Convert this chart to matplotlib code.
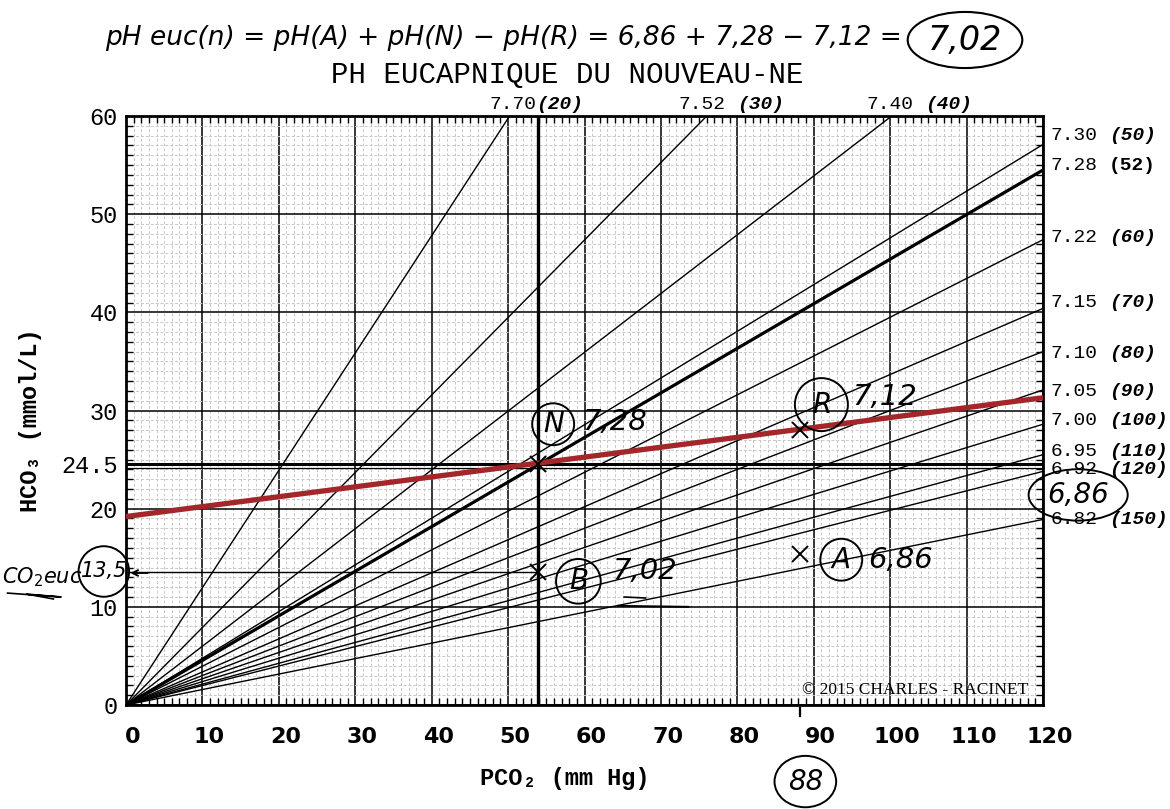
import matplotlib
matplotlib.use('Agg')
import matplotlib.pyplot as plt
from matplotlib.ticker import MultipleLocator
from matplotlib.transforms import ScaledTranslation

# ---------------- data ----------------
iso_ph = ['7.70', '7.52', '7.40', '7.30', '7.28', '7.22', '7.15', '7.10',
          '7.05', '7.00', '6.95', '6.92', '6.82']
iso_h = ['20', '30', '40', '50', '52', '60', '70', '80', '90', '100', '110',
         '120', '150']
iso_end_pco2 = [50.2, 76.0, 100.2, 120, 120, 120, 120, 120, 120, 120, 120, 120, 120]
iso_end_hco3 = [60, 60, 60, 57.1, 54.5, 47.4, 40.4, 36.0, 32.1, 28.6, 25.5, 23.8, 18.9]
iso_label_y = [60, 60, 60, 58.0, 55.0, 47.6, 41.0, 35.8, 31.9, 29.0, 25.8, 24.0, 18.9]
iso_label_x = [47.6, 72.3, 96.9, 121, 121, 121, 121, 121, 121, 121, 121, 121, 121]

red_pco2 = [0, 120]
red_hco3 = [19.2, 31.3]

normal_hco3 = 24.5
normal_pco2 = 53.9

pt_names = ['N', 'B', 'R', 'A']
pt_pco2 = [53.9, 53.9, 88.2, 88.2]
pt_hco3 = [24.5, 13.5, 28.0, 15.4]
pt_ph = ['7,28', '7,02', '7,12', '6,86']

x_ticks = [0, 10, 20, 30, 40, 50, 60, 70, 80, 90, 100, 110, 120]
y_ticks = [0, 10, 20, 24.5, 30, 40, 50, 60]
y_ticklabels = ['0', '10', '20', '24.5', '30', '40', '50', '60']

W, H = 1170, 809
MONO = ['Liberation Mono', 'DejaVu Sans Mono']
HAND = ['DejaVu Sans']

fig = plt.figure(figsize=(W / 100, H / 100), dpi=100)
fig.patch.set_facecolor('white')
ax = fig.add_axes([126 / W, 1 - 705 / H, (1043 - 126) / W, (705 - 116) / H])
ax.set_xlim(0, 120)
ax.set_ylim(0, 60)

# grid
ax.xaxis.set_minor_locator(MultipleLocator(1))
ax.yaxis.set_minor_locator(MultipleLocator(1))
ax.set_axisbelow(True)
ax.grid(which='minor', color='#c8c8c8', lw=0.7, ls=(0, (3, 2)))
ax.grid(which='major', color='black', lw=1.1)
ax.set_xticks(x_ticks)
ax.set_yticks(y_ticks)
ax.set_yticklabels(y_ticklabels)
ax.tick_params(which='both', direction='in', top=True, right=True)
ax.tick_params(which='minor', length=5, width=1.0, color='black')
ax.tick_params(which='major', length=0)
ax.tick_params(axis='x', which='major', pad=16)
ax.tick_params(axis='y', which='major', pad=6)
shift = ScaledTranslation(7 / 100, 0, fig.dpi_scale_trans)
for lbl in ax.get_xticklabels():
    lbl.set_family('DejaVu Sans')
    lbl.set_fontweight('bold')
    lbl.set_fontsize(16)
    lbl.set_transform(lbl.get_transform() + shift)
for lbl in ax.get_yticklabels():
    lbl.set_family(MONO)
    lbl.set_fontsize(17)
for s in ax.spines.values():
    s.set_linewidth(2)

# isopleth lines
for i in range(len(iso_ph)):
    lw = 2.3 if iso_h[i] == '52' else 1.0
    ax.plot([0, iso_end_pco2[i]], [0, iso_end_hco3[i]], color='black', lw=lw,
            solid_capstyle='butt', zorder=3)
    ph_txt = iso_ph[i]
    h_txt = '(' + iso_h[i] + ')'
    if iso_label_y[i] >= 60 and iso_label_x[i] < 120:
        sep = '' if iso_h[i] == '20' else ' '
        ax.annotate(ph_txt, (iso_label_x[i], 60), xytext=(0, 2),
                    textcoords='offset points', ha='left', va='bottom',
                    family=MONO, fontsize=14, annotation_clip=False)
        off = (4 + len(sep)) * 8.4
        ax.annotate(h_txt, (iso_label_x[i], 60), xytext=(off, 2),
                    textcoords='offset points', ha='left', va='bottom',
                    family=MONO, fontsize=14, fontweight='bold', style='italic',
                    annotation_clip=False)
    else:
        ax.annotate(ph_txt, (iso_label_x[i], iso_label_y[i]), xytext=(0, 0),
                    textcoords='offset points', ha='left', va='center',
                    family=MONO, fontsize=14, annotation_clip=False)
        st = 'normal' if iso_h[i] == '52' else 'italic'
        ax.annotate(h_txt, (iso_label_x[i], iso_label_y[i]), xytext=(5 * 8.4, 0),
                    textcoords='offset points', ha='left', va='center',
                    family=MONO, fontsize=14, fontweight='bold', style=st,
                    annotation_clip=False)

# normal reference lines
ax.axhline(normal_hco3, color='black', lw=2.2, zorder=3)
ax.axhline(normal_hco3 - 0.35, color='black', lw=0.9, zorder=3)
ax.axvline(normal_pco2, color='black', lw=2.4, zorder=3)

# red buffer line
ax.plot(red_pco2, red_hco3, color='#a3262a', lw=3.8, solid_capstyle='butt', zorder=4)

# horizontal line to HCO3 eucapnic
ax.plot([0, pt_pco2[1]], [pt_hco3[1], pt_hco3[1]], color='black', lw=1.0, zorder=3)

# handwritten points
ax.plot(pt_pco2, pt_hco3, ls='none', marker='x', color='black', ms=11, mew=1.4,
        zorder=6, clip_on=False)

letter_pos = [(55.9, 28.6), (59.2, 12.6), (91.0, 30.6), (93.6, 14.8)]
letter_pad = [0.25, 0.3, 0.45, 0.25]
value_pos = [(59.7, 28.8), (63.7, 13.6), (95.0, 31.4), (97.1, 14.8)]
for i in range(4):
    ax.text(*letter_pos[i], pt_names[i], ha='center', va='center', fontsize=20,
            family=HAND, style='italic', zorder=7,
            bbox=dict(boxstyle='circle,pad=%.2f' % letter_pad[i], fc='none',
                      ec='black', lw=1.4))
    ax.text(*value_pos[i], pt_ph[i], ha='left', va='center', fontsize=21,
            family=HAND, style='italic', zorder=7)
# underline of B value
ax.plot([64.4, 73.6], [10.1, 10.0], color='black', lw=1.4, zorder=7)
ax.plot([65.2, 68.0], [11.0, 10.9], color='black', lw=1.2, zorder=7)

ell = dict(boxstyle='ellipse,pad=0.15', fc='none', ec='black', lw=1.4)
# circled result on right
ax.text(124.6, 21.4, '6,86', ha='center', va='center', fontsize=20, family=HAND,
        style='italic', bbox=ell, zorder=7, clip_on=False)

# left eucapnic HCO3 annotation
ax.text(-2.9, 13.6, '13,5', ha='center', va='center', fontsize=15, family=HAND,
        style='italic', zorder=7, clip_on=False,
        bbox=dict(boxstyle='circle,pad=0.1', fc='none', ec='black', lw=1.4))
ax.text(-11.0, 13.0, 'CO$_2$euc', ha='center', va='center', fontsize=15,
        family=HAND, style='italic', zorder=7, clip_on=False)
ax.annotate('', xy=(0.2, 13.45), xytext=(3.2, 13.45),
            arrowprops=dict(arrowstyle='->', color='black', lw=1.4),
            annotation_clip=False)
ax.plot([-15.5, -8.5, -13, -9.5], [11.4, 11.0, 11.3, 10.8], color='black', lw=1.2,
        clip_on=False)

# PCO2 of R marked on axis
ax.plot([pt_pco2[2], pt_pco2[2]], [-0.3, -1.1], color='black', lw=1.6, clip_on=False)
ax.text(88.9, -7.8, '88', ha='center', va='center', fontsize=20, family=HAND,
        style='italic', bbox=ell, clip_on=False)

# copyright
ax.text(103.3, 1.5, '\u00a9 2015 CHARLES - RACINET', ha='center', va='center',
        family='Liberation Serif', fontsize=12.5, zorder=8)

# axis labels
ax.set_xlabel('PCO\u2082 (mm Hg)', family=MONO, fontsize=17, fontweight='bold')
ax.xaxis.set_label_coords((565 - 126) / (1043 - 126), -0.105)
ax.set_ylabel('HCO\u2083 (mmol/L)', family=MONO, fontsize=17, fontweight='bold')
ax.yaxis.set_label_coords(-0.092, (705 - 420) / (705 - 116))

# title and handwritten formula
fig.text(567 / W, 1 - 75 / H, 'PH EUCAPNIQUE DU NOUVEAU-NE', ha='center',
         va='center', family=['Liberation Mono'], fontsize=21)
fig.text(105 / W, 1 - 38 / H,
         'pH euc(n) = pH(A) + pH(N) \u2212 pH(R) = 6,86 + 7,28 \u2212 7,12 =',
         ha='left', va='center', family=HAND, style='italic', fontsize=19)
fig.text(965 / W, 1 - 40 / H, '7,02', ha='center', va='center', family=HAND,
         style='italic', fontsize=24,
         bbox=dict(boxstyle='ellipse,pad=0.1', fc='none', ec='black', lw=1.5))

fig.savefig('out.png', dpi=100, facecolor='white')
